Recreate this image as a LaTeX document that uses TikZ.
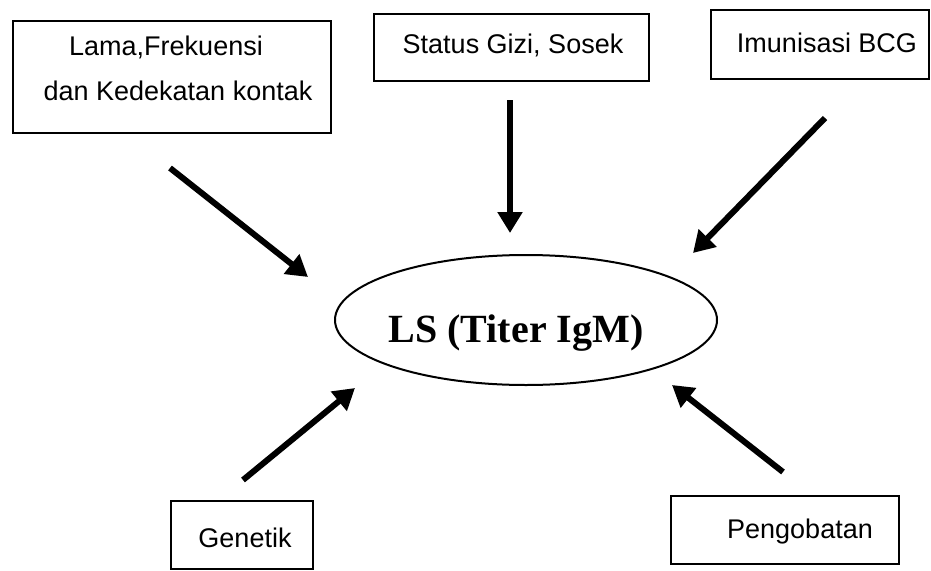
\documentclass[tikz,border=0pt]{standalone}
\usepackage{fontspec}
\setmainfont{Liberation Sans}
\newfontfamily\timesfont{Liberation Serif}
\usetikzlibrary{arrows.meta,shapes.geometric}
\begin{document}
\begin{tikzpicture}[x=1pt,y=-1pt,
  box/.style={draw,line width=2pt,inner sep=0pt,anchor=north west},
  lbl/.style={font=\fontsize{27}{45}\selectfont,inner sep=0pt,anchor=base},
  arr/.style={line width=6pt,-{Triangle[length=21pt,width=24pt]}},
]
\useasboundingbox[fill=white] (0,0) rectangle (931,570);
% boxes
\node[box,minimum width=318pt,minimum height=112pt] (b1) at (12,20) {};
\node[box,minimum width=275pt,minimum height=67pt] (b2) at (373,13) {};
\node[box,minimum width=218pt,minimum height=69pt] (b3) at (710,9) {};
\node[box,minimum width=142pt,minimum height=68pt] (b4) at (170,500) {};
\node[box,minimum width=228pt,minimum height=68pt] (b5) at (670,495) {};
\node[draw,ellipse,line width=2pt,inner sep=0pt,minimum width=382pt,minimum height=130pt] (el) at (526,320) {};
% texts
\node[lbl] (t1a) at (166,55) {Lama,Frekuensi};
\node[lbl] (t1b) at (178,100) {dan Kedekatan kontak};
\node[lbl] (t2) at (513,53) {Status Gizi, Sosek};
\node[lbl] (t3) at (827,52) {Imunisasi BCG};
\node[lbl] (t4) at (245,547) {Genetik};
\node[lbl] (t5) at (800,538) {Pengobatan};
\node[inner sep=0pt,anchor=base,font=\timesfont\bfseries\fontsize{40}{48}\selectfont] (tl) at (516,342) {LS (Titer IgM)};
% arrow ends
\coordinate (a1s) at (170,168); \coordinate (a1e) at (308,277);
\coordinate (a2s) at (510,100); \coordinate (a2e) at (510,233);
\coordinate (a3s) at (825,118); \coordinate (a3e) at (693,253);
\coordinate (a4s) at (243,480); \coordinate (a4e) at (355,388);
\coordinate (a5s) at (783,472); \coordinate (a5e) at (672,385);
\draw[arr] (a1s) -- (a1e);
\draw[arr] (a2s) -- (a2e);
\draw[arr] (a3s) -- (a3e);
\draw[arr] (a4s) -- (a4e);
\draw[arr] (a5s) -- (a5e);
\end{tikzpicture}
\end{document}
